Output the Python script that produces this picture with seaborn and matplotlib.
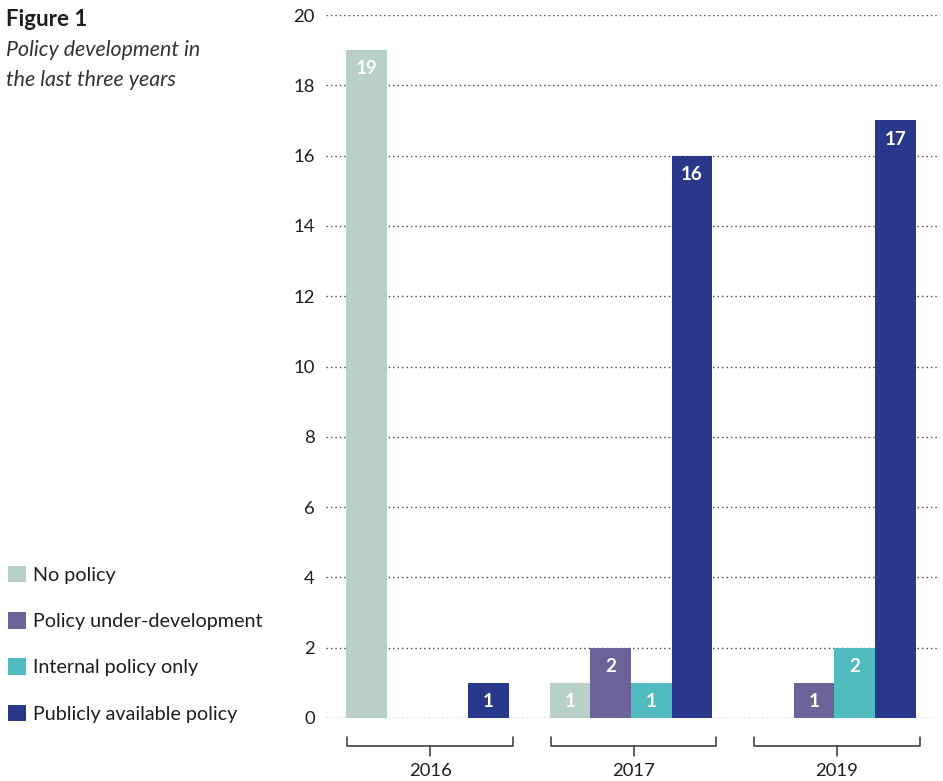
import matplotlib
matplotlib.use("Agg")
import matplotlib.pyplot as plt
import matplotlib.transforms as mtransforms
from matplotlib.patches import Patch
import seaborn as sns
import pandas as pd

years = ["2016", "2017", "2019"]
categories = ["No policy", "Policy under-development", "Internal policy only", "Publicly available policy"]
no_policy = [19, 1, 0]
under_dev = [0, 2, 1]
internal_only = [0, 1, 2]
public_policy = [1, 16, 17]
colors = ["#B9D0C8", "#6C6399", "#50BCBF", "#29388B"]
y_ticks = [0, 2, 4, 6, 8, 10, 12, 14, 16, 18, 20]

rows = []
for cat, vals in zip(categories, [no_policy, under_dev, internal_only, public_policy]):
    for yr, v in zip(years, vals):
        rows.append({"Year": yr, "Category": cat, "Value": v})
df = pd.DataFrame(rows)

sns.set_style("white")
plt.rcParams["font.family"] = ["Lato", "DejaVu Sans"]
TXT = "#1e1e1e"

fig = plt.figure(figsize=(9.43, 7.81), dpi=100)
ax = fig.add_axes([326 / 943, 1 - 718 / 781, 614 / 943, (718 - 15) / 781])

sns.barplot(data=df, x="Year", y="Value", hue="Category", order=years,
            hue_order=categories, palette=colors, width=0.8, saturation=1,
            ax=ax, legend=False, edgecolor="none", linewidth=0)

ax.set_xlim(-0.5, 2.52)
ax.set_ylim(0, 20)
ax.set_yticks(y_ticks)
ax.set_yticklabels([str(t) for t in y_ticks], fontsize=13.3, color=TXT)
ax.tick_params(axis="y", length=0, pad=8)
ax.set_xticks([])
ax.set_xlabel("")
ax.set_ylabel("")
for s in ax.spines.values():
    s.set_visible(False)
for t in y_ticks:
    ax.axhline(t, color="#444444", lw=1.0, ls=(0, (1, 2.2)), zorder=0)
ax.set_axisbelow(True)

# value labels
for p in ax.patches:
    h = p.get_height()
    if h and h > 0:
        ax.annotate(f"{int(round(h))}", xy=(p.get_x() + p.get_width() / 2, h),
                    xytext=(0, -13.5), textcoords="offset points",
                    ha="center", va="center", color="white",
                    fontsize=13.5, fontweight="bold")

# group brackets
trans = mtransforms.blended_transform_factory(ax.transData, ax.transAxes)
y_line = -(746 - 718) / 703
y_top = -(737 - 718) / 703
y_bot = -(756 - 718) / 703
for i, yr in enumerate(years):
    x0, x1 = i - 0.395, i + 0.42
    xc = i + 0.013
    ax.plot([x0, x0, x1, x1], [y_top, y_line, y_line, y_top], color="#333333",
            lw=1.1, transform=trans, clip_on=False)
    ax.plot([xc, xc], [y_line, y_bot], color="#333333", lw=1.1,
            transform=trans, clip_on=False)
    ax.text(xc, -(771 - 718) / 703, yr, transform=trans, ha="center",
            va="center", fontsize=13.3, color=TXT)

# titles
fig.text(6 / 943, 1 - 20 / 781, "Figure 1", fontsize=16, fontweight="bold",
         color=TXT, va="center", ha="left")
fig.text(6 / 943, 1 - 50 / 781, "Policy development in", fontsize=15.4,
         style="italic", color="#333333", va="center", ha="left")
fig.text(6 / 943, 1 - 80 / 781, "the last three years", fontsize=15.4,
         style="italic", color="#333333", va="center", ha="left")

# legend
handles = [Patch(facecolor=c, edgecolor="none") for c in colors]
fig.legend(handles, categories, loc="upper left",
           bbox_to_anchor=(8 / 943, 1 - 566 / 781), frameon=False,
           fontsize=14.2, handlelength=0.9, handleheight=0.9,
           handletextpad=0.35, labelspacing=1.43, borderpad=0,
           borderaxespad=0, labelcolor=TXT)

fig.savefig("out.png", dpi=100)
